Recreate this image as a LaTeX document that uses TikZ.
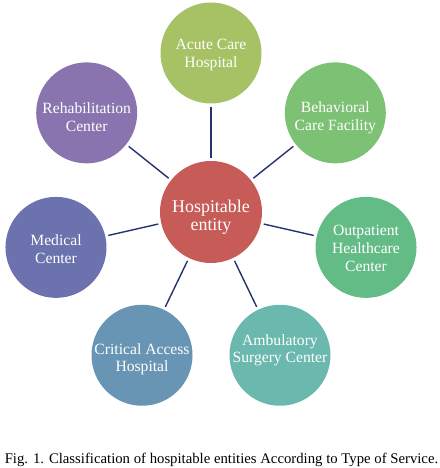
\documentclass[tikz,border=0pt]{standalone}
\usepackage{fontspec}
\setmainfont{Liberation Serif}
\usetikzlibrary{positioning}

\definecolor{hubred}{HTML}{C75B58}
\definecolor{linkblue}{HTML}{27316F}
\definecolor{acutegreen}{HTML}{A6C264}
\definecolor{behavgreen}{HTML}{7CC174}
\definecolor{outpgreen}{HTML}{63BC86}
\definecolor{ambteal}{HTML}{6BB8AE}
\definecolor{critblue}{HTML}{6795B3}
\definecolor{medblue}{HTML}{6B72AE}
\definecolor{rehabpurple}{HTML}{8A74AF}

\begin{document}
\begin{tikzpicture}[
  x=1bp, y=1bp,
  hub/.style ={circle, fill=hubred, minimum size=102bp, inner sep=0pt},
  leaf/.style={circle, minimum size=101bp, inner sep=0pt},
  svc/.style ={text=white, align=center, inner sep=0pt, font=\fontsize{15.7}{17.8}\selectfont},
  link/.style={draw=linkblue, line width=1.4bp, shorten >=3bp, shorten <=3bp},
]
\useasboundingbox (-211,-256) rectangle (229,212);
\node[hub] (hub) at (0,0) {};
\node[svc, font=\fontsize{18}{18.3}\selectfont] (hubtxt) at ([yshift=-5bp]hub.center) {Hospitable\\entity};
% seven service types round the hub
\foreach \i/\name/\col/\dy/\txt in {
    0/acute/acutegreen/-2/{Acute Care\\Hospital},
    1/behav/behavgreen/-5/{Behavioral\\Care Facility},
    2/outp/outpgreen/-1/{Outpatient\\Healthcare\\Center},
    3/amb/ambteal/5/{Ambulatory\\Surgery Center},
    4/crit/critblue/-4/{Critical Access\\Hospital},
    5/med/medblue/-2/{Medical\\Center},
    6/rehab/rehabpurple/-4/{Rehabilitation\\Center}}
{
  \node[leaf, fill=\col] (\name) at ({90-\i*360/7}:159) {};
  \node[svc] (\name txt) at ([yshift=\dy bp]\name.center) {\txt};
  \draw[link] (hub) -- (\name);
}
\node[font=\fontsize{14.8}{16}\selectfont] (cap) at (10.5,-248)
  {Fig. 1. Classification of hospitable entities According to Type of Service.};
\end{tikzpicture}
\end{document}
